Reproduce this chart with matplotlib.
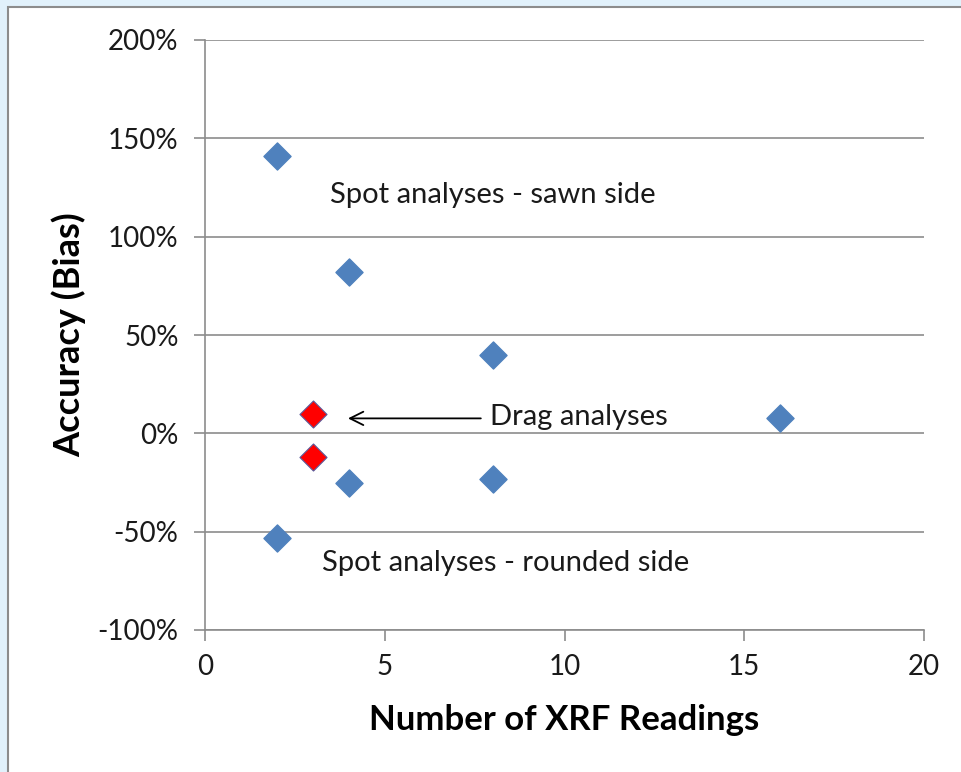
import matplotlib
matplotlib.use("Agg")
import matplotlib.pyplot as plt
from matplotlib.patches import Rectangle
from matplotlib.ticker import FuncFormatter

plt.rcParams['font.family'] = ['Lato', 'DejaVu Sans']

# Data
spot_x = [2, 4, 8, 16, 8, 4, 2]
spot_y = [1.41, 0.82, 0.40, 0.08, -0.23, -0.25, -0.53]
drag_x = [3, 3]
drag_y = [0.10, -0.12]

x_ticks = [0, 5, 10, 15, 20]
y_ticks = [-1.0, -0.5, 0.0, 0.5, 1.0, 1.5, 2.0]

W, H = 961, 772
fig = plt.figure(figsize=(W / 100, H / 100), dpi=100)
fig.patch.set_facecolor('#e1f1fb')
fig.patches.append(Rectangle((8 / W, -0.01), 1.0, 1.01 - 7 / H, transform=fig.transFigure,
                             facecolor='white', edgecolor='#8c8c8c', linewidth=1.5,
                             zorder=-5))

ax = fig.add_axes([205 / W, 1 - 630 / H, (924 - 205) / W, (630 - 40) / H])
ax.set_zorder(2)
ax.set_facecolor('none')
ax.set_xlim(0, 20)
ax.set_ylim(-1.0, 2.0)
ax.set_xticks(x_ticks)
ax.set_yticks(y_ticks)
ax.yaxis.set_major_formatter(FuncFormatter(lambda v, p: f"{v*100:.0f}%"))
ax.grid(axis='y', color='#8c8c8c', linewidth=1.2)
ax.set_axisbelow(True)
for s in ['top', 'right']:
    ax.spines[s].set_visible(False)
for s in ['left', 'bottom']:
    ax.spines[s].set_color('#8c8c8c')
    ax.spines[s].set_linewidth(1.2)
ax.tick_params(axis='both', colors='#8c8c8c', labelcolor='#1a1a1a', labelsize=20,
               length=8, width=1.2, direction='out')
ax.tick_params(axis='y', pad=11)
ax.tick_params(axis='x', pad=9)

ax.scatter(spot_x, spot_y, marker='D', s=190, color='#4f81bd', edgecolors='#4f81bd',
           zorder=3, clip_on=False)
ax.scatter(drag_x, drag_y, marker='D', s=190, color='#ff0000', edgecolors='#5a5a9a',
           linewidths=0.8, zorder=3, clip_on=False)

ax.set_ylabel('Accuracy (Bias)', fontsize=26, fontweight='bold', va='center')
ax.yaxis.set_label_coords(-0.19, 0.5)
ax.set_xlabel('Number of XRF Readings', fontsize=25, fontweight='bold', va='center')
ax.xaxis.set_label_coords(0.5, -0.153)

ax.text(3.48, 1.21, 'Spot analyses - sawn side', fontsize=21, ha='left', va='center',
        color='#1a1a1a')
ax.text(3.25, -0.66, 'Spot analyses - rounded side', fontsize=21, ha='left', va='center',
        color='#1a1a1a')
ax.text(7.93, 0.081, 'Drag analyses', fontsize=21, ha='left', va='center', color='#1a1a1a')
ax.annotate('', xy=(3.9, 0.076), xytext=(7.75, 0.076),
            arrowprops=dict(arrowstyle='->', color='black', lw=1.3, mutation_scale=24))

fig.savefig('out.png', dpi=100, facecolor=fig.get_facecolor())
